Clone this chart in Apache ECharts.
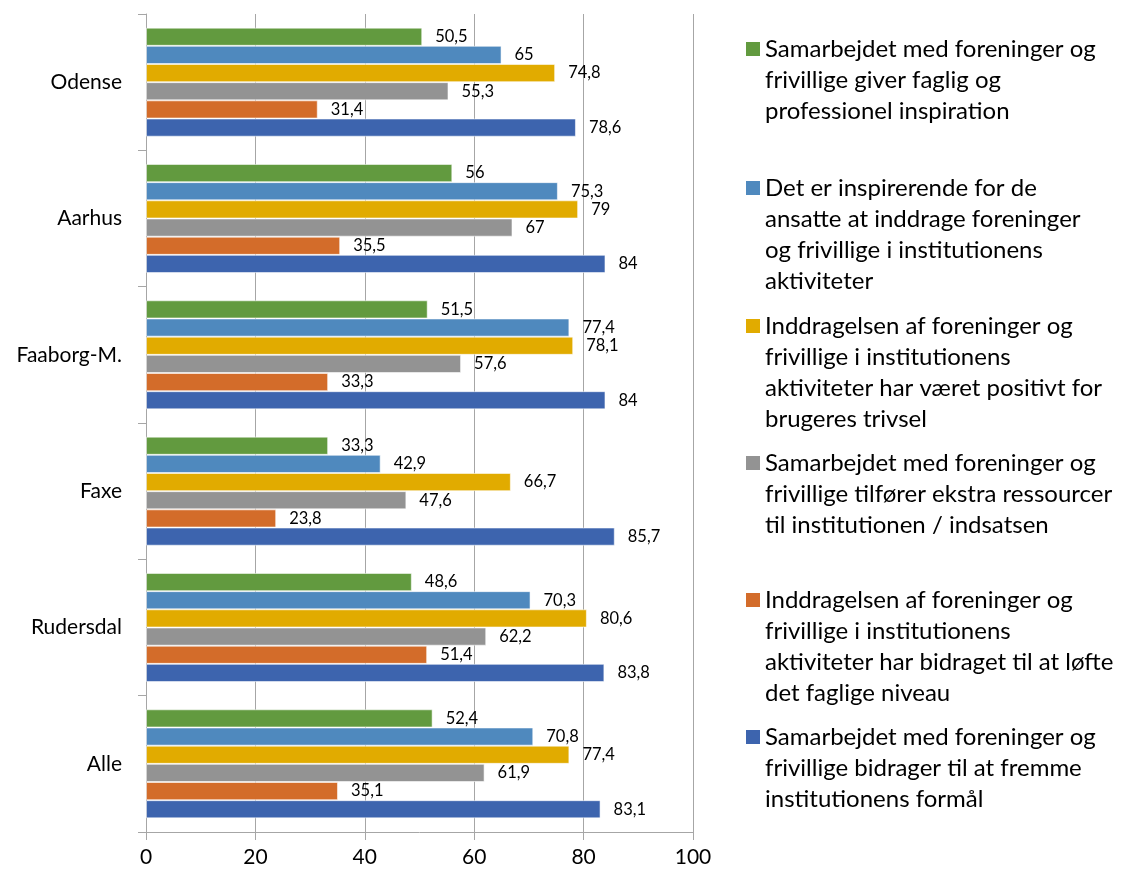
<!DOCTYPE html>
<html>
<head>
<meta charset="utf-8">
<script src="https://cdn.jsdelivr.net/npm/echarts@6/dist/echarts.min.js"></script>
<style>html,body{margin:0;padding:0;background:#fff}#c{width:1123px;height:873px}</style>
</head>
<body>
<div id="c"></div>
<script>
const categories = ['Odense', 'Aarhus', 'Faaborg-M.', 'Faxe', 'Rudersdal', 'Alle'];
const xTicks = [0, 20, 40, 60, 80, 100];

const inspirationValues = [50.5, 56, 51.5, 33.3, 48.6, 52.4];
const inspirerendeValues = [65, 75.3, 77.4, 42.9, 70.3, 70.8];
const trivselValues = [74.8, 79, 78.1, 66.7, 80.6, 77.4];
const ressourcerValues = [55.3, 67, 57.6, 47.6, 62.2, 61.9];
const niveauValues = [31.4, 35.5, 33.3, 23.8, 51.4, 35.1];
const formaalValues = [78.6, 84, 84, 85.7, 83.8, 83.1];

const legendLines = [
  ['Samarbejdet med foreninger og', 'frivillige giver faglig og', 'professionel inspiration'],
  ['Det er inspirerende for de', 'ansatte at inddrage foreninger', 'og frivillige i institutionens', 'aktiviteter'],
  ['Inddragelsen af foreninger og', 'frivillige i institutionens', 'aktiviteter har været positivt for', 'brugeres trivsel'],
  ['Samarbejdet med foreninger og', 'frivillige tilfører ekstra ressourcer', 'til institutionen / indsatsen'],
  ['Inddragelsen af foreninger og', 'frivillige i institutionens', 'aktiviteter har bidraget til at løfte', 'det faglige niveau'],
  ['Samarbejdet med foreninger og', 'frivillige bidrager til at fremme', 'institutionens formål']
];
const seriesValues = [inspirationValues, inspirerendeValues, trivselValues, ressourcerValues, niveauValues, formaalValues];
const colors = ['#629A3F', '#4F89BE', '#E1AB00', '#939393', '#D36C2A', '#3D64AE'];
const legendFirstLineY = [49, 188, 326, 463, 600, 737];

const LH = 31;
const names = legendLines.map(l => l.join(' '));

const series = seriesValues.map((vals, i) => ({
  name: names[i],
  type: 'bar',
  data: vals,
  barGap: '0%',
  barCategoryGap: '20%',
  itemStyle: { color: colors[i], borderColor: 'rgba(255,255,255,0.55)', borderWidth: 1 },
  label: {
    show: true, position: 'right', distance: 13,
    fontFamily: 'Lato', fontSize: 16.5, color: '#000',
    formatter: p => String(p.value).replace('.', ',')
  }
}));

const legends = legendLines.map((lines, i) => {
  const h = lines.length * LH;
  const c = LH / 2;
  return {
    data: [names[i]],
    left: 746,
    top: legendFirstLineY[i] - c,
    padding: 0,
    orient: 'vertical',
    itemWidth: 14,
    itemHeight: h,
    itemGap: 0,
    icon: `path://M0,${c - 7}L14,${c - 7}L14,${c + 7}L0,${c + 7}Z M0,0 M14,${h}`,
    itemStyle: { borderWidth: 0 },
    selectedMode: false,
    formatter: () => lines.join('\n'),
    textStyle: { fontFamily: 'Lato', fontSize: 24, lineHeight: LH, color: '#000' }
  };
});

const chart = echarts.init(document.getElementById('c'));
chart.setOption({
  animation: false,
  backgroundColor: '#fff',
  grid: { left: 146, right: 430, top: 14, bottom: 41, containLabel: false },
  xAxis: {
    type: 'value', min: xTicks[0], max: xTicks[xTicks.length - 1], interval: 20,
    axisLine: { show: true, lineStyle: { color: '#A6A6A6', width: 1 } },
    axisTick: { show: true, length: 8, lineStyle: { color: '#A6A6A6' } },
    splitLine: { show: true, lineStyle: { color: '#A6A6A6', width: 1 } },
    axisLabel: { fontFamily: 'Lato', fontSize: 21, color: '#000', margin: 15 }
  },
  yAxis: {
    type: 'category', data: categories, inverse: true,
    axisLine: { show: true, lineStyle: { color: '#A6A6A6', width: 1 } },
    axisTick: { show: true, length: 8, lineStyle: { color: '#A6A6A6' } },
    axisLabel: { fontFamily: 'Lato', fontSize: 21, color: '#000', margin: 24 }
  },
  legend: legends,
  series: series
});
</script>
</body>
</html>
